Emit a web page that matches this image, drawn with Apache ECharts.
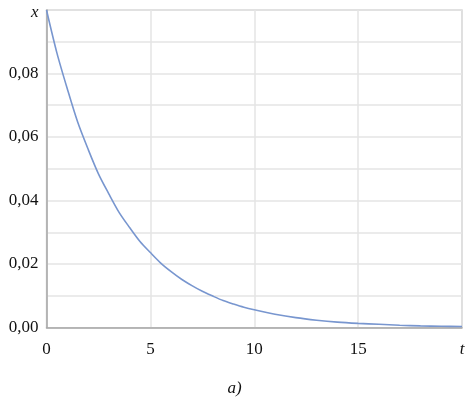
<!DOCTYPE html>
<html><head><meta charset="utf-8">
<script src="https://cdn.jsdelivr.net/npm/echarts@6/dist/echarts.min.js"></script>
<style>html,body{margin:0;padding:0;background:#fff}#c{width:469px;height:405px}</style>
</head><body><div id="c"></div>
<script>
const tValues = [0,0.5,1,1.5,2,2.5,3,3.5,4,4.5,5,5.5,6,6.5,7,7.5,8,8.5,9,9.5,10,11,12,13,14,15,16,17,18,19,20];
const xValues = [0.100,0.0865,0.0752,0.0647,0.0562,0.0484,0.0421,0.0362,0.0315,0.0271,0.0236,0.0203,0.0176,0.0152,0.0132,0.0114,0.0099,0.0085,0.0074,0.0064,0.0056,0.0042,0.0031,0.0023,0.0017,0.0013,0.0010,0.0007,0.0005,0.0004,0.0003];
const xTickLabels = ['0','5','10','15','t'];
const yTickLabels = ['0,00','0,02','0,04','0,06','0,08','x'];
const caption = 'a)';

const serif = '"Liberation Serif","DejaVu Serif",serif';
const chart = echarts.init(document.getElementById('c'));
chart.setOption({
  animation:false,
  title:{text:caption,left:'center',top:375,textStyle:{fontFamily:serif,fontStyle:'italic',fontWeight:'normal',fontSize:17,color:'#111'}},
  grid:{left:46.5,right:7,top:10,bottom:77.5,show:true,borderColor:'#b4b4b4',borderWidth:1.2},
  xAxis:{type:'value',min:0,max:20,interval:5,
    axisLine:{lineStyle:{color:'#a8a8a8',width:1.5}},axisTick:{show:false},
    splitLine:{lineStyle:{color:'#e4e4e4',width:1.5}},
    axisLabel:{margin:14,fontFamily:serif,fontSize:17,color:'#111',
      formatter:v=>{const s=xTickLabels[Math.round(v/5)];return s==='t'?'{i|t}':s;},
      rich:{i:{fontFamily:serif,fontStyle:'italic',fontSize:17,color:'#111'}}}},
  yAxis:{type:'value',min:0,max:0.1,interval:0.01,
    axisLine:{show:true,lineStyle:{color:'#a8a8a8',width:1.5}},axisTick:{show:false},
    splitLine:{lineStyle:{color:'#e4e4e4',width:1.5}},
    axisLabel:{margin:8,fontFamily:serif,fontSize:17,color:'#111',
      formatter:v=>{const k=Math.round(v*100);if(k%2)return '';const s=yTickLabels[k/2];return s==='x'?'{i|x}':s;},
      rich:{i:{fontFamily:serif,fontStyle:'italic',fontSize:17,color:'#111',padding:[6,0,0,0]}}}},
  series:[{type:'line',smooth:0.3,symbol:'none',
    data:tValues.map((t,i)=>[t,xValues[i]]),
    lineStyle:{color:'#7896cf',width:1.6}}]
});
</script></body></html>
